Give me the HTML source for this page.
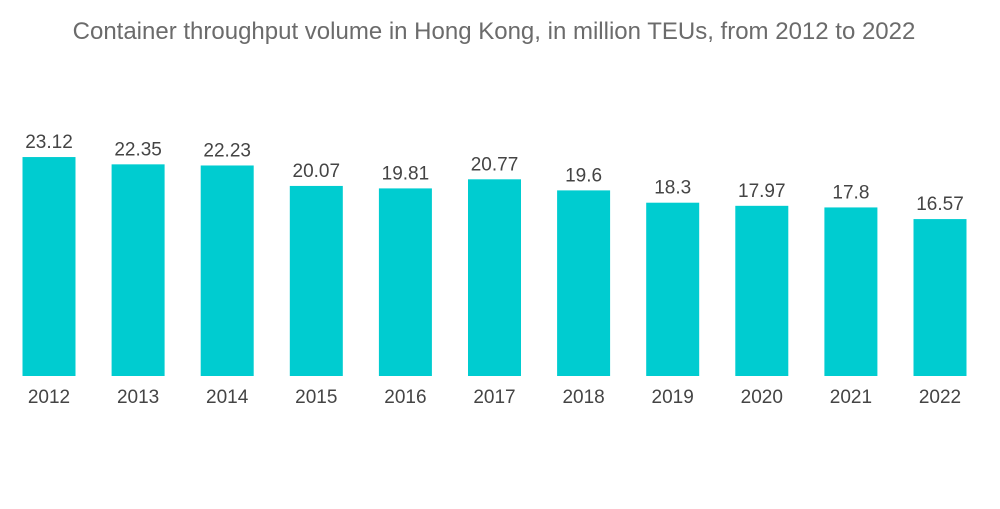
<!DOCTYPE html>
<html><head><meta charset="utf-8"><style>
body{margin:0;background:#fff;width:1000px;height:504px;overflow:hidden;font-family:"Liberation Sans",sans-serif}
</style></head><body>
<svg width="1000" height="504">
<text x="494" y="39" text-anchor="middle" font-size="24" fill="#6b6b6b">Container throughput volume in Hong Kong, in million TEUs, from 2012 to 2022</text>
<g id="bars"></g>
</svg>
<script>
const categories=["2012","2013","2014","2015","2016","2017","2018","2019","2020","2021","2022"];
const values=[23.12,22.35,22.23,20.07,19.81,20.77,19.6,18.3,17.97,17.8,16.57];
const valueLabels=["23.12","22.35","22.23","20.07","19.81","20.77","19.6","18.3","17.97","17.8","16.57"];
const base=376, scale=9.47, x0=49, step=89.1, bw=53;
const yPos=v=>base-v*scale;
const xPos=i=>x0+i*step;
const g=document.getElementById('bars');
const ns="http://www.w3.org/2000/svg";
categories.forEach((c,i)=>{
 const r=document.createElementNS(ns,'rect');
 r.setAttribute('x',xPos(i)-bw/2);r.setAttribute('y',yPos(values[i]));
 r.setAttribute('width',bw);r.setAttribute('height',base-yPos(values[i]));
 r.setAttribute('fill','#00ccd0');
 
 
 g.appendChild(r);
 const t=document.createElementNS(ns,'text');
 t.setAttribute('x',xPos(i));t.setAttribute('y',yPos(values[i])-9);
 t.setAttribute('text-anchor','middle');t.setAttribute('font-size','19');t.setAttribute('fill','#444');
 t.textContent=valueLabels[i];
 
 
 g.appendChild(t);
 const a=document.createElementNS(ns,'text');
 a.setAttribute('x',xPos(i));a.setAttribute('y',403);
 a.setAttribute('text-anchor','middle');a.setAttribute('font-size','19');a.setAttribute('fill','#444');
 a.textContent=c;
 
 
 g.appendChild(a);
});
</script>
</body></html>
